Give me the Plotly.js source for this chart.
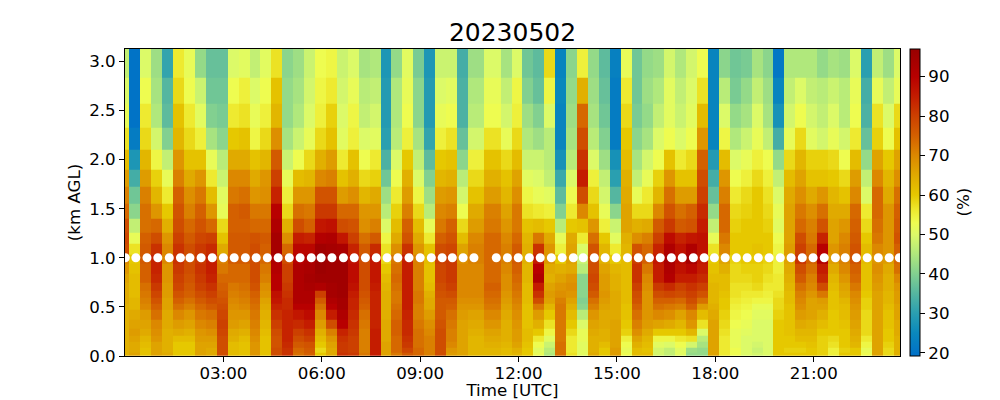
<!DOCTYPE html>
<html><head><meta charset="utf-8">
<script src="https://cdn.plot.ly/plotly-3.0.1.min.js"></script>
<style>html,body{margin:0;padding:0;background:#fff}#c{width:1000px;height:400px}</style>
</head><body><div id="c"></div>
<script>
// Time edges of each profile column (hours UTC)
const timeEdges=[0,.13,.47,.80,1.14,1.47,1.81,2.14,2.48,2.81,3.15,3.48,3.82,4.12,4.46,4.80,5.13,5.47,5.80,6.14,6.47,6.81,7.14,7.48,7.81,8.12,8.45,8.79,9.12,9.46,9.80,10.13,10.47,10.95,11.47,11.81,12.11,12.45,12.78,13.12,13.45,13.79,14.12,14.46,14.80,15.13,15.47,15.77,16.11,16.44,16.78,17.11,17.45,17.78,18.12,18.45,18.79,19.12,19.46,19.77,20.10,20.44,20.77,21.11,21.44,21.78,22.11,22.45,22.78,23.12,23.45,23.63];
// Height edges, top to bottom (km AGL)
const heightEdges=[3.2,2.83,2.57,2.32,2.10,1.90,1.72,1.55,1.40,1.26,1.14,1.03,.94,.834,.746,.664,.593,.529,.468,.366,.28,.207,.146,.088,.034,0];
// Relative humidity profiles, one per column, top to bottom (%)
const c00=[47,50,52,57,62,67,71,74,78,79,78,70,68,66,65,65,65,64,64,64,64,64,64,64,64];
const c01=[20,20,20,22,28,33,38,41,47,52,57,60,61,62,62,62,63,63,65,66,67,66,65,65,66];
const c02=[50,53,56,58,63,67,71,73,73,75,76,76,75,75,73,72,71,70,67,66,65,63,62,61,61];
const c03=[43,44,45,49,54,59,63,68,74,78,82,84,84,83,81,79,77,75,73,70,69,68,66,66,66];
const c04=[31,35,36,40,47,52,56,60,64,68,70,70,68,68,67,67,66,66,65,65,64,64,64,64,65];
const c05=[56,58,61,63,68,71,75,77,78,80,82,82,81,80,79,77,75,73,70,67,65,62,60,60,60];
const c06=[52,53,56,58,61,65,69,71,74,76,78,78,78,77,76,75,73,71,68,66,64,62,60,60,60];
const c07=[42,48,51,55,61,68,72,75,77,79,81,81,82,81,80,78,76,74,72,70,68,67,66,66,66];
const c08=[37,38,40,44,52,56,62,68,74,80,83,85,85,84,82,80,78,76,73,71,69,67,66,65,65];
const c09=[37,38,39,41,46,48,51,52,58,61,65,71,72,74,75,76,77,78,79,80,79,78,78,78,78];
const c10=[50,53,56,60,65,70,72,75,75,76,76,76,74,74,72,71,70,69,68,67,65,64,62,62,62];
const c11=[51,55,57,61,65,70,73,76,75,76,76,76,74,74,73,72,71,70,68,66,64,62,61,61,61];
const c12=[47,50,52,54,61,65,68,72,74,77,78,78,78,78,77,75,74,73,72,71,70,69,68,68,68];
const c13=[51,53,55,58,63,68,69,72,74,76,75,74,72,71,69,68,66,65,64,63,62,61,61,61,61];
const c14=[57,61,63,69,76,80,84,90,92,94,94,92,91,90,90,87,86,84,82,80,78,77,77,78,78];
const c15=[41,42,42,44,48,52,55,58,64,69,74,78,80,80,81,82,83,83,84,84,84,84,83,82,82];
const c16=[43,44,45,48,53,62,68,73,78,85,89,90,92,92,92,92,92,90,86,83,80,78,76,74,73];
const c17=[48,49,50,52,58,63,68,72,75,84,89,92,93,94,93,92,92,90,88,85,82,80,77,76,75];
const c18=[53,54,55,58,64,70,77,81,86,91,95,96,96,95,92,80,76,73,70,67,64,62,60,58,60];
const c19=[54,56,59,61,67,71,77,81,87,92,94,95,95,95,94,94,92,90,85,78,71,68,66,65,65];
const c20=[48,49,50,51,56,61,67,74,78,86,93,95,95,95,95,95,94,94,92,90,84,82,81,81,82];
const c21=[50,52,54,55,61,64,69,74,77,80,84,87,88,88,87,85,84,84,83,82,81,80,80,80,81];
const c22=[44,46,47,50,53,58,63,68,69,73,76,78,78,78,78,77,76,75,73,72,71,71,71,71,72];
const c23=[45,47,49,51,56,59,65,68,71,76,83,86,86,86,85,84,84,84,84,84,85,85,85,85,85];
const c24=[28,29,29,30,34,38,43,46,50,54,57,58,60,62,63,64,64,64,64,65,65,65,66,66,66];
const c25=[42,45,45,46,50,53,56,59,62,65,69,72,73,74,73,72,72,73,74,75,75,74,74,74,72];
const c26=[51,52,53,55,60,64,67,71,75,77,82,85,85,85,85,85,85,85,84,83,83,82,81,79,76];
const c27=[39,41,41,44,47,50,54,58,62,65,68,71,71,71,71,72,72,71,71,72,73,73,73,74,74];
const c28=[28,29,29,31,36,40,43,46,52,56,61,62,61,61,62,64,65,65,67,69,70,71,71,71,71];
const c29=[48,50,52,55,60,63,67,70,72,75,78,80,79,79,78,77,76,76,76,77,78,78,78,78,78];
const c30=[48,51,53,57,61,64,68,71,75,77,79,81,81,81,80,78,76,75,73,72,71,71,70,68,67];
const c31=[33,34,34,37,41,46,49,53,58,62,66,69,70,70,70,70,69,68,67,66,66,66,66,66,66];
const c32=[43,45,46,49,55,58,61,65,67,70,71,71,70,70,70,70,69,68,66,65,64,63,63,63,63];
const c33=[50,52,53,57,61,64,67,71,72,74,74,74,74,74,75,74,73,72,70,68,66,65,64,63,63];
const c34=[44,47,49,52,58,61,63,66,68,70,71,71,70,69,69,68,67,66,65,64,64,64,63,62,62];
const c35=[50,54,55,58,62,66,69,72,72,74,76,76,75,74,73,72,71,70,69,68,67,67,66,64,63];
const c36=[38,40,43,45,48,51,54,57,61,63,64,64,63,63,62,62,62,61,61,61,62,62,61,60,60];
const c37=[36,37,40,43,48,50,52,56,62,72,82,85,90,92,85,82,78,72,67,64,60,56,53,51,52];
const c38=[58,54,50,46,46,47,51,55,60,65,68,68,65,64,66,67,66,63,60,57,54,51,48,46,45];
const c39=[24,25,24,24,27,32,36,40,46,52,55,60,64,66,68,69,71,72,72,72,72,72,73,73,73];
const c40=[41,42,43,44,46,50,53,56,60,65,66,66,65,68,69,68,66,64,62,60,58,56,56,56,57];
const c41=[55,64,74,78,82,85,78,70,61,56,50,48,46,41,41,41,40,41,46,50,52,52,51,51,51];
const c42=[42,43,44,46,50,55,58,61,68,73,77,78,78,79,78,76,73,71,68,66,65,64,64,64,65];
const c43=[36,37,38,40,43,47,49,52,55,60,63,64,66,67,67,68,67,66,65,65,64,64,62,60,60];
const c44=[23,22,22,22,27,30,35,41,48,51,56,60,63,64,64,65,65,65,65,66,66,66,66,67,67];
const c45=[52,56,58,60,62,64,65,66,66,64,63,62,62,62,62,62,62,61,61,60,59,55,53,52,53];
const c46=[38,38,39,41,44,47,52,58,64,69,77,80,82,82,80,78,77,75,73,71,69,66,64,62,62];
const c47=[42,43,42,44,49,52,56,58,65,71,74,75,72,70,69,68,68,68,68,67,65,63,62,61,62];
const c48=[43,45,47,50,53,59,63,70,76,80,84,86,85,85,81,78,75,73,70,66,60,54,51,49,49];
const c49=[49,51,51,53,61,68,73,77,81,88,92,93,92,91,83,79,75,72,69,65,60,54,50,47,47];
const c50=[45,47,48,50,56,61,67,73,76,84,87,88,87,85,80,78,74,71,66,63,60,56,53,51,51];
const c51=[49,50,51,53,58,61,67,75,77,86,92,94,89,85,82,80,78,75,70,68,63,57,49,43,42];
const c52=[53,57,62,68,75,78,80,83,85,87,87,86,85,83,80,77,73,67,62,57,50,46,44,42,42];
const c53=[24,24,24,24,29,33,37,42,47,52,57,60,61,62,63,63,63,64,65,66,66,66,66,66,66];
const c54=[41,46,50,54,62,68,71,74,74,72,70,66,64,62,62,61,60,60,59,58,57,56,56,56,56];
const c55=[38,39,42,45,50,53,56,58,59,60,60,59,58,58,57,57,56,55,54,53,52,52,52,53,53];
const c56=[39,42,44,48,52,55,58,59,60,60,60,60,59,58,57,56,55,54,53,52,51,50,50,50,50];
const c57=[44,47,50,52,55,58,60,60,60,60,61,60,59,59,58,56,54,52,51,50,50,50,49,48,49];
const c58=[41,43,44,47,53,55,57,58,59,60,60,59,58,57,56,55,54,52,51,50,50,50,50,50,50];
const c59=[21,24,27,33,42,47,50,52,51,53,54,55,55,56,56,57,58,58,59,60,60,60,60,60,60];
const c60=[45,47,49,52,58,62,65,66,66,66,67,66,65,64,63,62,62,61,61,61,61,60,60,59,60];
const c61=[45,50,53,58,63,66,69,72,74,78,80,82,78,76,73,71,70,69,67,65,63,62,60,59,60];
const c62=[45,47,49,51,59,61,65,69,71,72,74,75,73,71,70,68,66,66,66,64,63,62,61,60,60];
const c63=[42,46,47,49,59,61,68,73,77,84,90,91,85,83,78,72,67,66,64,62,60,59,59,59,59];
const c64=[44,48,50,52,58,60,63,65,66,66,68,67,65,63,62,61,61,61,60,60,60,58,57,55,55];
const c65=[43,46,46,49,53,58,61,65,68,70,71,71,70,68,66,65,63,62,62,61,60,60,60,59,60];
const c66=[50,52,53,56,62,67,70,74,75,76,77,77,75,74,72,70,69,68,67,66,65,64,63,60,60];
const c67=[30,33,34,37,42,47,50,56,58,60,62,62,61,61,61,60,59,59,58,58,58,56,54,52,53];
const c68=[47,52,57,59,66,70,74,74,73,72,70,68,69,68,67,66,66,66,66,66,66,66,66,66,66];
const c69=[43,47,50,53,60,63,65,68,68,68,68,67,65,64,64,63,63,62,61,61,60,60,59,58,58];
const c70=[50,52,58,61,66,69,73,75,76,77,75,74,73,70,68,67,67,66,66,65,65,64,64,64,64];
const columns=[c00,c01,c02,c03,c04,c05,c06,c07,c08,c09,c10,c11,c12,c13,c14,c15,c16,c17,c18,c19,c20,c21,c22,c23,c24,c25,c26,c27,c28,c29,c30,c31,c32,c33,c34,c35,c36,c37,c38,c39,c40,c41,c42,c43,c44,c45,c46,c47,c48,c49,c50,c51,c52,c53,c54,c55,c56,c57,c58,c59,c60,c61,c62,c63,c64,c65,c66,c67,c68,c69,c70];
// White markers along the 1 km line (hours UTC)
const markerTimes=[.01,.33,.67,1.00,1.35,1.69,1.98,2.32,2.66,3.00,3.33,3.67,4.00,4.34,4.67,5.01,5.34,5.68,5.98,6.31,6.66,6.99,7.33,7.66,7.99,8.32,8.66,9.00,9.34,9.67,9.98,10.31,10.64,11.32,11.66,11.99,12.33,12.66,13.00,13.33,13.67,13.97,14.31,14.64,14.98,15.32,15.65,15.99,16.32,16.66,16.99,17.33,17.66,17.97,18.30,18.64,18.97,19.31,19.64,19.98,20.31,20.65,20.98,21.32,21.66,21.96,22.30,22.63,22.97,23.30,23.61];
const markerHeights=markerTimes.map(()=>1.0);
const xTicks=[3,6,9,12,15,18,21];
const xTickLabels=['03:00','06:00','09:00','12:00','15:00','18:00','21:00'];
const yTicks=[0,.5,1,1.5,2,2.5,3];
const yTickLabels=['0.0','0.5','1.0','1.5','2.0','2.5','3.0'];
const cbTicks=[20,30,40,50,60,70,80,90];
const zMin=19.2,zMax=97;
const colorStops=[[19.2,'#0070c8'],[25,'#0a88bc'],[30,'#2a9fb0'],[35,'#55b6a0'],[40,'#82d090'],[45,'#b0e87c'],[50,'#dcfa68'],[53,'#eefc50'],[56,'#eeea30'],[60,'#e6c800'],[65,'#e0aa00'],[70,'#dc8800'],[75,'#d46000'],[80,'#cc4000'],[85,'#c41c00'],[90,'#b80000'],[97,'#980000']];

const revEdges=heightEdges.slice().reverse();
const z=heightEdges.slice(1).map((_,r)=>columns.map(c=>c[r])).reverse();
const font={family:'"DejaVu Sans",sans-serif',color:'#000'};
const px={tick:16.67,title:25};
Plotly.newPlot('c',[
 {type:'heatmap',x:timeEdges,y:revEdges,z:z,zmin:zMin,zmax:zMax,hoverinfo:'skip',
  colorscale:colorStops.map(s=>[(s[0]-zMin)/(zMax-zMin),s[1]]),
  colorbar:{thickness:10,thicknessmode:'pixels',len:1,lenmode:'fraction',x:1.0129,xanchor:'left',xpad:0,y:0.5,yanchor:'middle',ypad:0,
    tickmode:'array',tickvals:cbTicks,ticks:'outside',ticklen:5,tickwidth:1,tickcolor:'#000',outlinewidth:1,outlinecolor:'#000',
    tickfont:Object.assign({size:px.tick},font)}},
 {type:'scatter',mode:'markers',x:markerTimes,y:markerHeights,hoverinfo:'skip',showlegend:false,
  marker:{symbol:'circle',size:9,color:'#fff',line:{width:0}}}
],{
 width:1000,height:400,showlegend:false,paper_bgcolor:'#fff',plot_bgcolor:'#fff',
 margin:{l:125,r:100,t:48.6,b:44,pad:0},
 title:{text:'20230502',font:Object.assign({size:px.title},font),x:0.5125,xanchor:'center',y:0.92,yanchor:'middle'},
 xaxis:{range:[0,23.63],tickmode:'array',tickvals:xTicks,ticktext:xTickLabels,ticks:'outside',ticklen:5,tickwidth:1,tickcolor:'#000',ticklabelstandoff:-3,
  showline:true,mirror:true,linecolor:'#000',linewidth:1,showgrid:false,zeroline:false,tickfont:Object.assign({size:px.tick},font),
  title:{text:'Time [UTC]',font:Object.assign({size:px.tick},font),standoff:7}},
 yaxis:{range:[0,3.126],tickmode:'array',tickvals:yTicks,ticktext:yTickLabels,ticks:'outside',ticklen:5,tickwidth:1,tickcolor:'#000',
  showline:true,mirror:true,linecolor:'#000',linewidth:1,showgrid:false,zeroline:false,tickfont:Object.assign({size:px.tick},font),
  title:{text:'(km AGL)',font:Object.assign({size:px.tick},font),standoff:4}},
 annotations:[{text:'(%)',textangle:-90,xref:'paper',yref:'paper',x:(963-125)/775,y:0.5,xanchor:'center',yanchor:'middle',showarrow:false,
  font:Object.assign({size:px.tick},font)}]
},{staticPlot:true,displayModeBar:false});
</script></body></html>
